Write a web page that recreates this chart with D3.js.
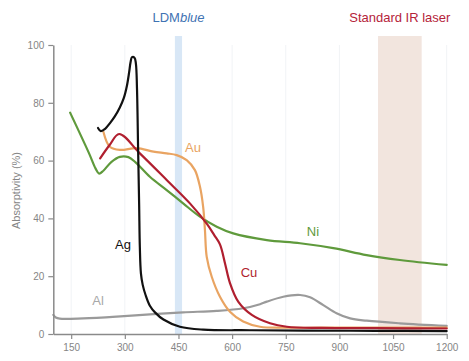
<!DOCTYPE html>
<html>
<head>
<meta charset="utf-8">
<script src="https://cdn.jsdelivr.net/npm/d3@7"></script>
<style>
  html, body { margin: 0; padding: 0; background: #fff; }
  svg { display: block; font-family: "Liberation Sans", Arial, sans-serif; }
</style>
</head>
<body>
<svg id="chart" width="469" height="361"></svg>
<script>
// ---- data (wavelength nm, absorptivity %) ----
const xTicks = [150, 300, 450, 600, 750, 900, 1050, 1200];
const yTicks = [0, 20, 40, 60, 80, 100];

const agWave = [225, 233, 245, 258, 272, 286, 297, 306, 312, 316, 320, 327, 331, 334, 337, 340, 342, 345, 350, 358, 370, 385, 408, 454, 519, 650, 800, 1000, 1200];
const agAbs  = [71.3, 70.2, 71.0, 72.9, 75.3, 78.4, 81.6, 86.0, 90.5, 94.0, 95.8, 95.6, 93.5, 85, 65, 45, 30, 21, 17, 13.5, 9.8, 7.4, 5.0, 2.5, 1.5, 1.3, 1.2, 1.1, 1.0];

const cuWave = [231, 258, 284, 342, 417, 482, 530, 550, 566, 580, 594, 617, 655, 706, 753, 850, 1000, 1200];
const cuAbs  = [60.8, 65.5, 69.2, 62.5, 53.3, 45.2, 38.0, 34.2, 31.0, 24.5, 17.6, 11.2, 6.6, 3.7, 2.5, 2.1, 2.0, 1.9];

const auWave = [240, 258, 286, 333, 380, 417, 445, 473, 496, 510, 519, 524, 529, 543, 566, 594, 631, 678, 760, 900, 1200];
const auAbs  = [70.0, 64.8, 63.7, 64.3, 63.1, 62.5, 61.9, 60.2, 56.7, 51, 44, 36, 26.7, 19.8, 12.9, 7.7, 4.3, 2.5, 2.2, 2.2, 2.2];

const niWave = [147, 200, 218, 228, 240, 262, 286, 310, 330, 370, 417, 463, 510, 557, 603, 697, 790, 883, 976, 1069, 1200];
const niAbs  = [76.6, 62.5, 57.3, 55.5, 56.5, 59.5, 61.3, 61.2, 59.4, 54.4, 49.8, 45.2, 40.6, 37.1, 34.8, 32.5, 31.4, 29.7, 27.3, 25.6, 23.9];

const alWave = [100, 107, 118, 184, 277, 370, 463, 557, 631, 678, 697, 743, 790, 818, 855, 892, 930, 976, 1069, 1200];
const alAbs  = [6.6, 5.7, 5.3, 5.4, 6.0, 6.8, 7.5, 8.0, 8.9, 10.3, 11.2, 12.9, 13.5, 12.7, 10.0, 7.2, 5.4, 4.6, 3.7, 2.8];

const seriesNames  = ["Al", "Ni", "Au", "Cu", "Ag"];
const seriesColors = ["#9a9a9a", "#5f9a3c", "#e9a462", "#b01f2f", "#111111"];
const seriesWaves  = [alWave, niWave, auWave, cuWave, agWave];
const seriesAbs    = [alAbs, niAbs, auAbs, cuAbs, agAbs];
const labelPos = [[98, 305], [313, 236], [193, 152], [249, 277], [123, 249]];

const bandNames = ["LDMblue", "Standard IR laser"];
const bandRanges = [[440, 460], [1008, 1130]];

// ---- layout ----
const svg = d3.select("#chart");
const x = d3.scaleLinear().domain([100, 1200]).range([53.3, 446.7]);
const y = d3.scaleLinear().domain([0, 100]).range([334, 45]);

// faint vertical grid
svg.append("g").selectAll("line").data(xTicks).join("line")
  .attr("x1", d => x(d)).attr("x2", d => x(d))
  .attr("y1", y(100)).attr("y2", y(0))
  .attr("stroke", "#f1f3f6").attr("stroke-width", 1);

// bands
svg.append("rect")
  .attr("x", x(bandRanges[0][0])).attr("width", x(bandRanges[0][1]) - x(bandRanges[0][0]))
  .attr("y", 36).attr("height", y(0) - 36)
  .attr("fill", "#d8e7f6");
svg.append("rect")
  .attr("x", x(bandRanges[1][0])).attr("width", x(bandRanges[1][1]) - x(bandRanges[1][0]))
  .attr("y", 36).attr("height", y(0) - 36)
  .attr("fill", "#f2e5de");

// band titles
const t1 = svg.append("text")
  .attr("x", x(450)).attr("y", 22).attr("text-anchor", "middle")
  .attr("font-size", 13).attr("fill", "#3f73b3");
t1.append("tspan").text("LDM");
t1.append("tspan").attr("font-style", "italic").text("blue");
svg.append("text")
  .attr("x", x(1069)).attr("y", 22).attr("text-anchor", "middle")
  .attr("font-size", 13).attr("fill", "#b5233a")
  .text(bandNames[1]);

// lines
const line = d3.line().curve(d3.curveCatmullRom.alpha(0.5));
seriesNames.forEach((name, i) => {
  const pts = seriesWaves[i].map((w, j) => [x(w), y(seriesAbs[i][j])]);
  svg.append("path")
    .attr("d", line(pts))
    .attr("fill", "none")
    .attr("stroke", seriesColors[i])
    .attr("stroke-width", 2.2)
    .attr("stroke-linejoin", "round")
    .attr("stroke-linecap", "round");
});

// series labels
seriesNames.forEach((name, i) => {
  svg.append("text")
    .attr("x", labelPos[i][0]).attr("y", labelPos[i][1])
    .attr("text-anchor", "middle")
    .attr("font-size", 13)
    .attr("fill", name === "Al" ? "#a8a8a8" : seriesColors[i])
    .text(name);
});

// axes
const axisColor = "#8a8a8a";
const xAxis = svg.append("g").attr("transform", `translate(0,${y(0)})`)
  .call(d3.axisBottom(x).tickValues(xTicks).tickFormat(d3.format("d")).tickSize(5).tickSizeOuter(0).tickPadding(5));
const yAxis = svg.append("g").attr("transform", `translate(${x(100)},0)`)
  .call(d3.axisLeft(y).tickValues(yTicks).tickFormat(d3.format("d")).tickSize(5).tickSizeOuter(0).tickPadding(4));
[xAxis, yAxis].forEach(g => {
  g.select(".domain").attr("stroke", axisColor).attr("stroke-width", 1.5);
  g.selectAll(".tick line").attr("stroke", axisColor).attr("stroke-width", 1.2);
  g.selectAll(".tick text").attr("fill", "#858585").attr("font-size", 10)
    .attr("font-family", "\"Liberation Sans\", Arial, sans-serif");
});

// y axis title
svg.append("text")
  .attr("transform", `translate(20,${(y(0) + y(100)) / 2 + 1}) rotate(-90)`)
  .attr("text-anchor", "middle").attr("font-size", 11).attr("fill", "#858585")
  .text("Absorptivity (%)");
</script>
</body>
</html>
